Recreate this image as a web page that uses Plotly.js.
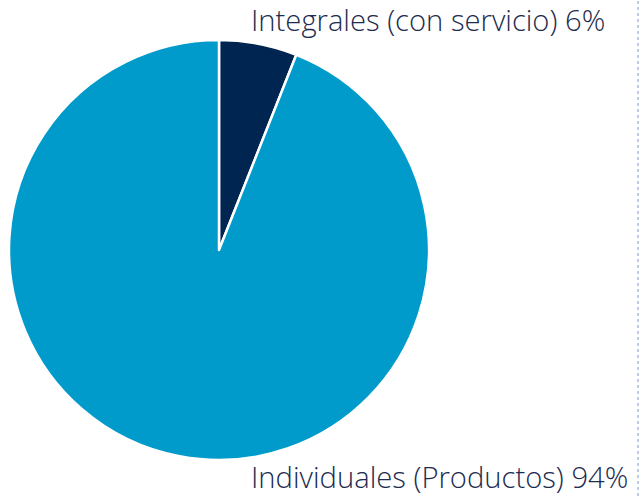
<!DOCTYPE html>
<html><head><meta charset="utf-8">
<script src="https://cdn.plot.ly/plotly-3.0.1.min.js"></script>
<style>html,body{margin:0;padding:0;background:#fff}</style>
</head><body>
<div id="chart" style="width:641px;height:496px"></div>
<script>
const labels = ["Integrales (con servicio)", "Individuales (Productos)"];
const values = [6, 94];
const colors = ["#002551", "#009bcb"];

const W = 641, H = 496;
const data = [{
  type: "pie",
  labels: labels,
  values: values,
  sort: false,
  direction: "clockwise",
  rotation: 0,
  textinfo: "none",
  hoverinfo: "label+percent",
  marker: {colors: colors, line: {color: "#ffffff", width: 2.5}},
  domain: {x: [9/W, 429/W], y: [36/H, 456/H]},
  showlegend: false
}];
const lblFont = {size: 29.2, color: "#1c2b4f", family: "Open Sans, sans-serif", weight: 300};
const layout = {
  width: W, height: H,
  margin: {l: 0, r: 0, t: 0, b: 0},
  paper_bgcolor: "#ffffff",
  font: {family: "Open Sans, sans-serif", color: "#1c2b4f"},
  annotations: [
    {text: labels[0] + " " + values[0] + "%", xref: "paper", yref: "paper",
     x: 249/W, y: 1 + 2/H, xanchor: "left", yanchor: "top", showarrow: false,
     font: lblFont},
    {text: labels[1] + " " + values[1] + "%", xref: "paper", yref: "paper",
     x: 249/W, y: 1 - 455/H, xanchor: "left", yanchor: "top", showarrow: false,
     font: lblFont}
  ],
  shapes: [
    {type: "line", xref: "paper", yref: "paper", x0: 638/W, x1: 638/W, y0: 0, y1: 1,
     line: {color: "#a8bfdc", width: 1.5, dash: "dot"}}
  ]
};
Plotly.newPlot("chart", data, layout, {displayModeBar: false, staticPlot: true});
</script>
</body></html>
